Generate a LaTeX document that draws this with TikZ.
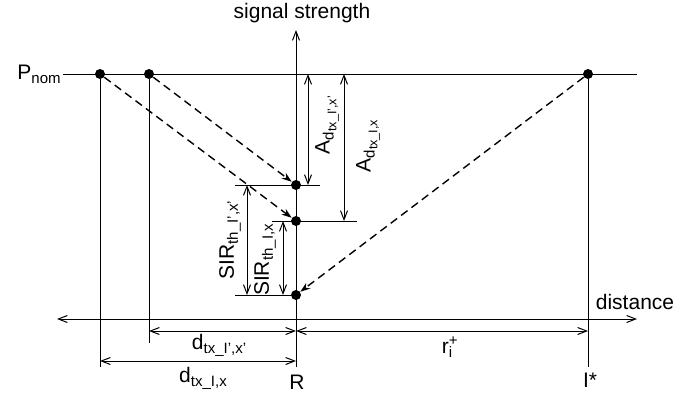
\documentclass[tikz,border=0pt]{standalone}
\usepackage{fontspec}
\setmainfont{Liberation Sans}
\usetikzlibrary{arrows.meta,positioning}
\newcommand{\bajo}[1]{\raisebox{-2pt}{\fontsize{7.5}{8}\selectfont #1}}
\newcommand{\bajito}[1]{\raisebox{-1.3pt}{\fontsize{6.3}{7}\selectfont #1}}
\newcommand{\alto}[1]{\raisebox{4pt}{\fontsize{7.5}{8}\selectfont #1}}

\begin{document}
\begin{tikzpicture}[
  x=0.5pt, y=-0.5pt,
  linea/.style={line width=0.5pt},
  punto/.style={circle, fill, inner sep=0pt, minimum size=5pt},
  etiqueta/.style={font=\fontsize{10.5}{12}\selectfont, inner sep=1pt},
  cota/.style={{Straight Barb[length=4.5pt,width=3.5pt]}-{Straight Barb[length=4.5pt,width=3.5pt]}, line width=0.5pt},
  eje/.style={-{Straight Barb[length=4.5pt,width=3.5pt]}, line width=0.5pt},
  flecha/.style={-{Stealth[length=5pt,width=3.5pt]}, dashed, dash pattern=on 4pt off 2.5pt, line width=0.7pt}
]
\useasboundingbox (0,0) rectangle (695,397);
% puntos
\node[punto] (p1) at (100,74) {};
\node[punto] (p2) at (149,74) {};
\node[punto] (pI) at (588,74) {};
\node[punto] (r1) at (296,185) {};
\node[punto] (r2) at (296,221) {};
\node[punto] (r3) at (296,295) {};
% ejes
\node[etiqueta, anchor=east] (pnom) at (63,74) {P\bajo{nom}};
\coordinate (pfin) at (637,74);
\draw[linea] (pnom) -- (pfin);
\coordinate (ejeabajo) at (296,367);
\coordinate (ejearriba) at (296,30);
\draw[eje] (ejeabajo) -- (ejearriba);
\node[etiqueta] (senal) at (302,13) {signal strength};
\coordinate (distizq) at (57,319);
\coordinate (distder) at (637,319);
\draw[cota] (distizq) -- (distder);
\node[etiqueta] (dist) at (635,302) {distance};
% verticales
\coordinate (v1) at (100,367);
\coordinate (v2) at (149,343);
\coordinate (vI) at (588,367);
\draw[linea] (p1) -- (v1);
\draw[linea] (p2) -- (v2);
\draw[linea] (pI) -- (vI);
% cotas horizontales
\coordinate (c1a) at (149,331);
\coordinate (c1b) at (296,331);
\coordinate (c2a) at (100,361);
\coordinate (c2b) at (296,361);
\coordinate (c3b) at (588,331);
\draw[cota] (c1a) -- (c1b);
\draw[cota] (c2a) -- (c2b);
\draw[cota] (c1b) -- (c3b);
\node[etiqueta] (d1) at (219,345) {d\bajo{tx\_I',x'}};
\node[etiqueta] (d2) at (203,378) {d\bajo{tx\_I,x}};
\node[etiqueta] (rmas) at (447,347) {r\rlap{\alto{+}}\bajo{i}};
\node[etiqueta] (R) at (297,382) {R};
\node[etiqueta] (Iast) at (590,380) {I*};
% marcas
\coordinate (m1a) at (235,185);
\coordinate (m1b) at (320,185);
\coordinate (m2a) at (272,221);
\coordinate (m2b) at (357,221);
\coordinate (m3a) at (235,295);
\draw[linea] (m1a) -- (m1b);
\draw[linea] (m2a) -- (m2b);
\draw[linea] (m3a) -- (r3);
% cotas verticales
\coordinate (a1a) at (308,74);
\coordinate (a1b) at (308,185);
\coordinate (a2a) at (344,74);
\coordinate (a2b) at (344,221);
\coordinate (s1a) at (247,185);
\coordinate (s1b) at (247,295);
\coordinate (s2a) at (283,221);
\coordinate (s2b) at (283,295);
\draw[cota] (a1a) -- (a1b);
\draw[cota] (a2a) -- (a2b);
\draw[cota] (s1a) -- (s1b);
\draw[cota] (s2a) -- (s2b);
\node[etiqueta, rotate=90] (A1) at (327,125) {A\bajo{d\bajito{tx\_I',x'}}};
\node[etiqueta, rotate=90] (A2) at (368,146) {A\bajo{d\bajito{tx\_I,x}}};
\node[etiqueta, rotate=90] (S1) at (230,240) {SIR\bajo{th\_I',x'}};
\node[etiqueta, rotate=90] (S2) at (265,260) {SIR\bajo{th\_I,x}};
% senales
\draw[flecha] (p2) -- (r1);
\draw[flecha] (p1) -- (r2);
\draw[flecha] (pI) -- (r3);
\end{tikzpicture}
\end{document}
